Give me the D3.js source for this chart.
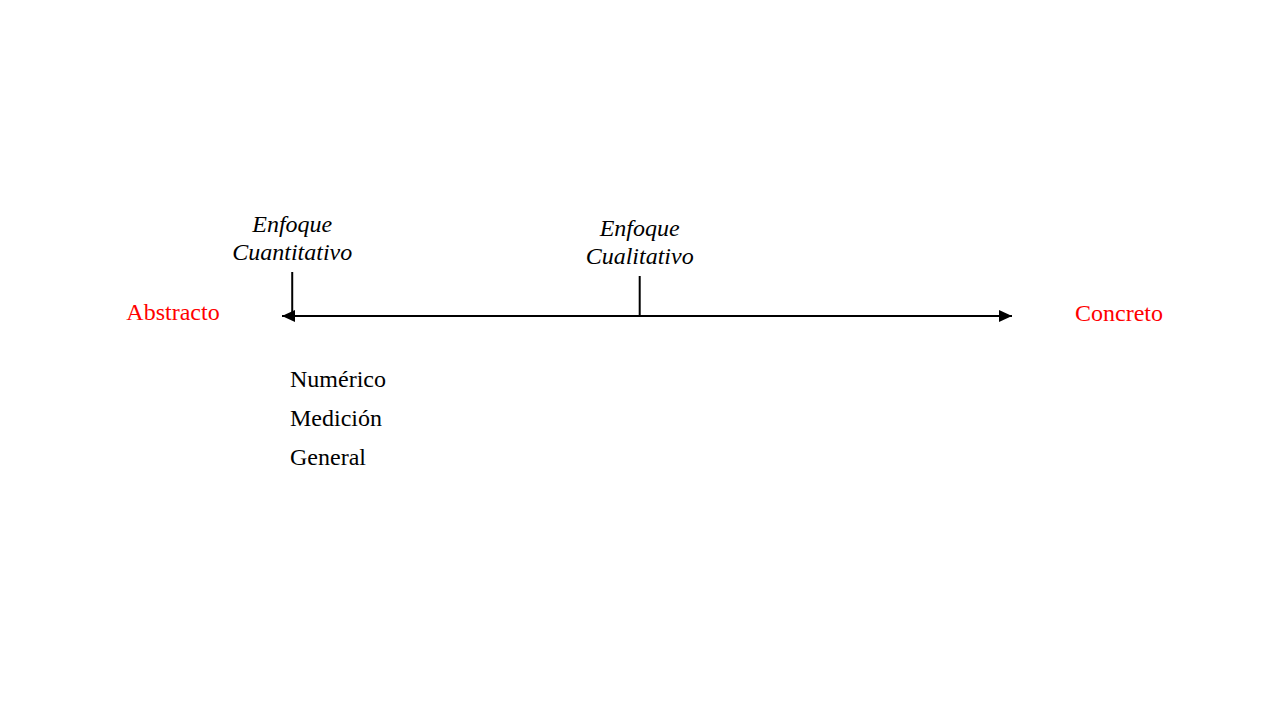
<!DOCTYPE html>
<html>
<head>
<meta charset="utf-8">
<script src="https://cdn.jsdelivr.net/npm/d3@7"></script>
<style>
  body { margin: 0; background: #fff; }
  svg { font-family: "Liberation Serif", "Times New Roman", serif; }
</style>
</head>
<body>
<div id="chart"></div>
<script>
const FRAME_WIDTH = 1280;
const FRAME_HEIGHT = 720;

// continuum: 0 = most abstract, 100 = most concrete
const ENDS = ["Abstracto", "Concreto"];
const APPROACHES = [["Enfoque", "Cuantitativo"], ["Enfoque", "Cualitativo"]];
const APPROACH_POS = [1.4, 49.0];
const TICK_HEIGHT = [44, 40];
const TRAITS = ["Numérico", "Medición", "General"];

const SVG = d3.select("#chart")
  .append("svg")
    .attr("width", FRAME_WIDTH)
    .attr("height", FRAME_HEIGHT);

const AXIS_Y = 316;

const X_SCALE = d3.scaleLinear()
  .domain([0, 100])
  .range([282, 1012]);

// arrow heads
const defs = SVG.append("defs");
defs.append("marker")
    .attr("id", "head")
    .attr("viewBox", "0 0 13 12")
    .attr("refX", 13)
    .attr("refY", 6)
    .attr("markerWidth", 13)
    .attr("markerHeight", 12)
    .attr("markerUnits", "userSpaceOnUse")
    .attr("orient", "auto-start-reverse")
  .append("path")
    .attr("d", "M0,0 L13,6 L0,12 Z")
    .attr("fill", "#000");

SVG.append("line")
    .attr("x1", X_SCALE(0))
    .attr("x2", X_SCALE(100))
    .attr("y1", AXIS_Y)
    .attr("y2", AXIS_Y)
    .attr("stroke", "#000")
    .attr("stroke-width", 2)
    .attr("marker-start", "url(#head)")
    .attr("marker-end", "url(#head)");

// ticks for each approach
SVG.selectAll(".tick")
  .data(APPROACH_POS)
  .enter()
  .append("line")
    .attr("class", "tick")
    .attr("x1", d => X_SCALE(d))
    .attr("x2", d => X_SCALE(d))
    .attr("y1", (d, i) => AXIS_Y - TICK_HEIGHT[i])
    .attr("y2", AXIS_Y)
    .attr("stroke", "#000")
    .attr("stroke-width", 2);

// approach labels (two lines, italic)
const labels = SVG.selectAll(".approach")
  .data(APPROACHES)
  .enter()
  .append("text")
    .attr("class", "approach")
    .attr("text-anchor", "middle")
    .attr("font-style", "italic")
    .attr("font-size", 24)
    .attr("x", (d, i) => X_SCALE(APPROACH_POS[i]))
    .attr("y", (d, i) => AXIS_Y - TICK_HEIGHT[i] - 40);

labels.selectAll("tspan")
  .data((d, i) => d.map(t => ({t: t, x: X_SCALE(APPROACH_POS[i])})))
  .enter()
  .append("tspan")
    .attr("x", d => d.x)
    .attr("dy", (d, j) => j === 0 ? 0 : 28)
    .text(d => d.t);

// end labels in red
SVG.append("text")
    .attr("x", 173)
    .attr("y", AXIS_Y + 4)
    .attr("text-anchor", "middle")
    .attr("font-size", 24)
    .attr("fill", "#ff0000")
    .text(ENDS[0]);

SVG.append("text")
    .attr("x", 1119)
    .attr("y", AXIS_Y + 5)
    .attr("text-anchor", "middle")
    .attr("font-size", 24)
    .attr("fill", "#ff0000")
    .text(ENDS[1]);

// traits under the quantitative end
SVG.selectAll(".trait")
  .data(TRAITS)
  .enter()
  .append("text")
    .attr("class", "trait")
    .attr("x", 290)
    .attr("y", (d, i) => 387 + i * 39)
    .attr("font-size", 24)
    .attr("fill", "#000")
    .text(d => d);
</script>
</body>
</html>
